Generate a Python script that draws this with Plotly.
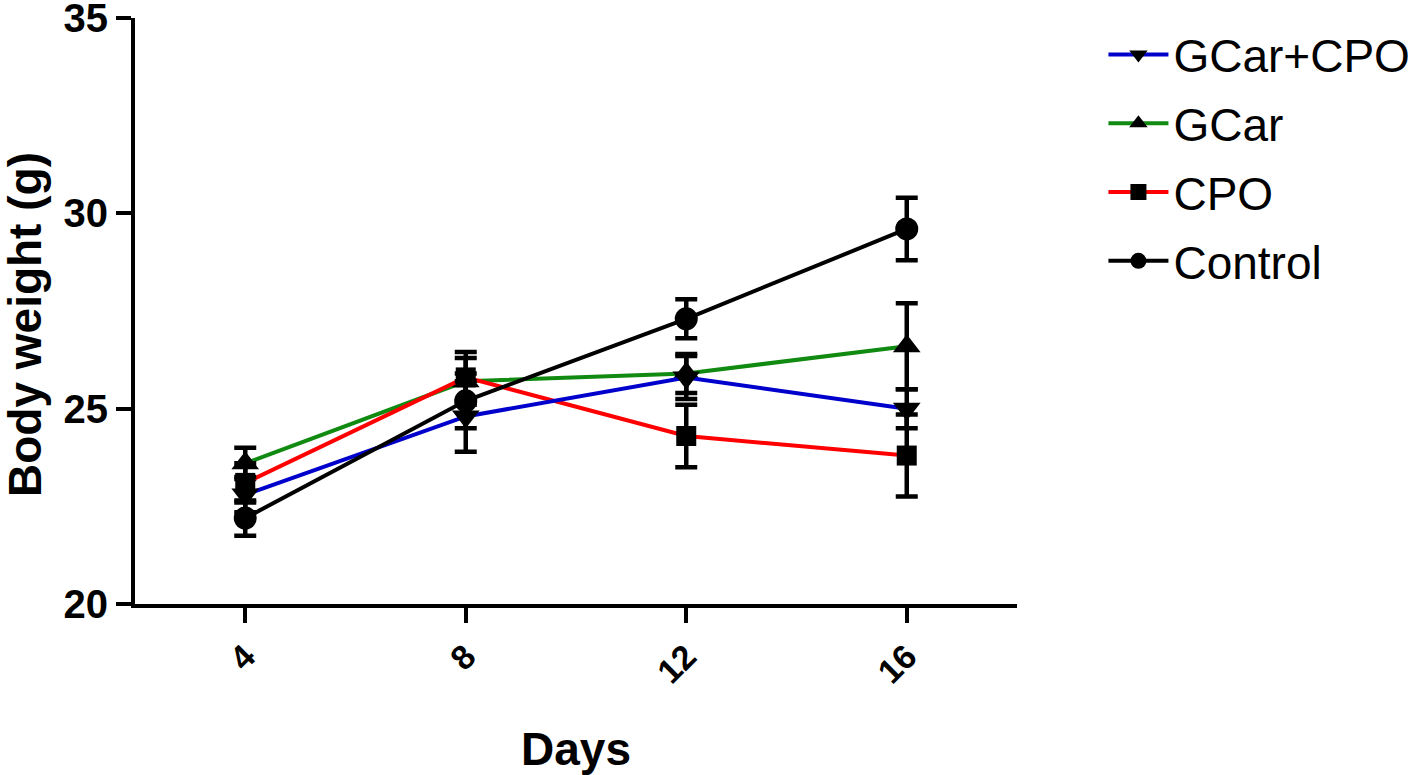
import plotly.graph_objects as go

days = [4, 8, 12, 16]
series_names = ["GCar+CPO", "GCar", "CPO", "Control"]
gcar_cpo = [22.8, 24.8, 25.8, 25.0]
gcar_cpo_err = [0.45, 0.9, 0.55, 0.5]
gcar = [23.6, 25.7, 25.9, 26.6]
gcar_err = [0.4, 0.6, 0.5, 1.1]
cpo = [23.1, 25.8, 24.3, 23.8]
cpo_err = [0.5, 0.65, 0.8, 1.05]
control = [22.2, 25.2, 27.3, 29.6]
control_err = [0.45, 0.7, 0.5, 0.8]

specs = [
    ("GCar", gcar, gcar_err, "#118a11", "triangle-up", 24, 2),
    ("CPO", cpo, cpo_err, "#ff0000", "square", 20, 3),
    ("GCar+CPO", gcar_cpo, gcar_cpo_err, "#0000cc", "triangle-down", 24, 1),
    ("Control", control, control_err, "#000000", "circle", 23, 4),
]

fig = go.Figure()
for name, vals, errs, color, sym, msize, rank in specs:
    fig.add_trace(go.Scatter(
        x=days, y=vals, name=name, mode="lines+markers",
        line=dict(color=color, width=4),
        marker=dict(symbol=sym, size=msize, color="black", line=dict(width=0)),
        error_y=dict(type="data", array=errs, visible=True, color="black",
                     thickness=4.5, width=11),
        legendrank=rank, legendgroup=name,
    ))

fig.update_layout(
    width=1418, height=775,
    paper_bgcolor="white", plot_bgcolor="white",
    margin=dict(l=135, r=401, t=18, b=171, autoexpand=False),
    font=dict(family="Liberation Sans, Arial, sans-serif", color="black"),
    legend=dict(x=1.098, y=1.0, xanchor="left", yanchor="top",
                font=dict(size=46), tracegroupgap=6, itemwidth=60,
                bgcolor="rgba(0,0,0,0)"),
    xaxis=dict(
        range=[2, 18], tickmode="array", tickvals=days,
        ticktext=[str(d) for d in days], automargin=False,
        showline=True, linecolor="black", linewidth=4,
        ticks="outside", ticklen=15, tickwidth=4, tickcolor="black",
        tickangle=-45, tickfont=dict(size=34, family="Liberation Sans, Arial", weight="bold"),
        showgrid=False, zeroline=False,
        title=dict(text="<b>Days</b>", font=dict(size=46), standoff=47),
    ),
    yaxis=dict(
        range=[20, 35], tickvals=[20, 25, 30, 35], automargin=False,
        showline=True, linecolor="black", linewidth=4,
        ticks="outside", ticklen=15, tickwidth=4, tickcolor="black",
        tickfont=dict(size=40, family="Liberation Sans, Arial", weight="bold"),
        ticklabeloverflow="allow",
        showgrid=False, zeroline=False,
    ),
    annotations=[dict(
        text="<b>Body weight (g)</b>", textangle=-90,
        xref="paper", yref="paper", x=(25 - 135) / 882, y=(604 - 325) / 586,
        xanchor="center", yanchor="middle", showarrow=False,
        font=dict(size=46, color="black"),
    )],
)

fig.write_html("out.html", config={"displayModeBar": False},
               post_script="document.body.style.margin='0';document.body.style.overflow='hidden';")
